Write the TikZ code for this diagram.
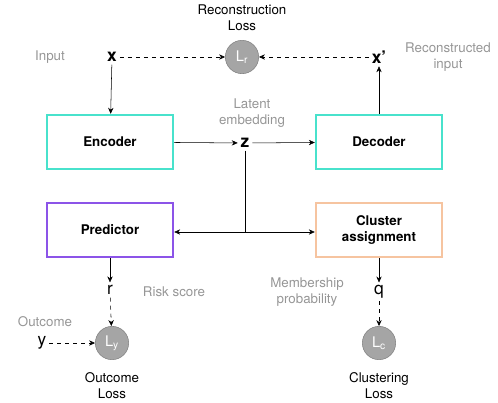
\documentclass[tikz,border=0pt]{standalone}
\usepackage{fontspec}
\setmainfont{TeX Gyre Heros}
\usetikzlibrary{arrows.meta, positioning}

\definecolor{encteal}{RGB}{72, 226, 204}
\definecolor{predviolet}{RGB}{140, 84, 232}
\definecolor{clustpeach}{RGB}{246, 196, 160}
\definecolor{labelgray}{RGB}{150, 150, 150}
\definecolor{lossgray}{RGB}{165, 165, 165}

\tikzset{
  block/.style={draw, line width=1.3pt, minimum width=95pt, minimum height=41pt, align=center, font=\fontsize{10}{12}\selectfont\bfseries},
  var/.style={font=\fontsize{13}{14}\selectfont, inner sep=2pt},
  loss/.style={circle, fill=lossgray, draw=gray, minimum size=25pt, inner sep=0pt, text=white, font=\fontsize{11}{12}\selectfont},
  note/.style={align=center, text=labelgray, font=\fontsize{10}{12}\selectfont},
  title/.style={align=center, font=\fontsize{10}{12}\selectfont},
  flow/.style={-{Stealth[length=4.5pt, width=4pt]}, thin},
  lossflow/.style={flow, dashed}
}

\begin{document}
\begin{tikzpicture}[x=0.75pt, y=-0.75pt]
  \useasboundingbox (0,0) rectangle (498,402);

  % Autoencoder row
  \node[var, font=\fontsize{13}{14}\selectfont\bfseries] (x) at (112, 57) {x};
  \node[var, font=\fontsize{13}{14}\selectfont\bfseries] (xr) at (379, 57) {x'};
  \node[loss] (lr) at (242, 57) {L\textsubscript{r}};
  \node[block, draw=encteal] (enc) at (110, 142) {Encoder};
  \node[block, draw=encteal] (dec) at (379, 142) {Decoder};
  \node[var, font=\fontsize{13}{14}\selectfont\bfseries] (z) at (245, 143) {z};

  % Heads
  \node[block, draw=predviolet] (pred) at (110, 230) {Predictor};
  \node[block, draw=clustpeach] (clust) at (379, 230) {Cluster\\assignment};
  \coordinate (split) at (245, 232);

  % Outputs and losses
  \node[var] (r) at (110, 290) {r};
  \node[var] (q) at (379, 292) {q};
  \node[var] (y) at (42, 343) {y};
  \node[loss] (ly) at (112, 343) {L\textsubscript{y}};
  \node[loss] (lc) at (379, 343) {L\textsubscript{c}};

  % Labels
  \node[title] (lrname) at (242, 18) {Reconstruction\\Loss};
  \node[note] (inname) at (50, 57) {Input};
  \node[note] (xrname) at (448, 57) {Reconstructed\\input};
  \node[note] (zname) at (252, 113) {Latent\\embedding};
  \node[note] (rname) at (174, 292) {Risk score};
  \node[note] (qname) at (307, 292) {Membership\\probability};
  \node[note] (yname) at (45, 322) {Outcome};
  \node[title, inner sep=1pt] (lyname) at (112, 386) {Outcome\\Loss};
  \node[title, inner sep=1pt] (lcname) at (379, 386) {Clustering\\Loss};

  % Connectors
  \draw[flow] (x) -- (enc);
  \draw[flow] (enc) -- (z);
  \draw[flow] (z) -- (dec);
  \draw[flow] (dec) -- (xr);
  \draw[thin] (z) -- (split);
  \draw[flow] (split) -- (pred.east |- split);
  \draw[flow] (split) -- (clust.west |- split);
  \draw[flow] (pred) -- (r);
  \draw[flow] (clust) -- (q);

  % Loss terms
  \draw[lossflow] (x) -- (lr);
  \draw[lossflow] (xr) -- (lr);
  \draw[lossflow] (r) -- (ly);
  \draw[lossflow] (y) -- (ly);
  \draw[lossflow] (q) -- (lc);
\end{tikzpicture}
\end{document}
